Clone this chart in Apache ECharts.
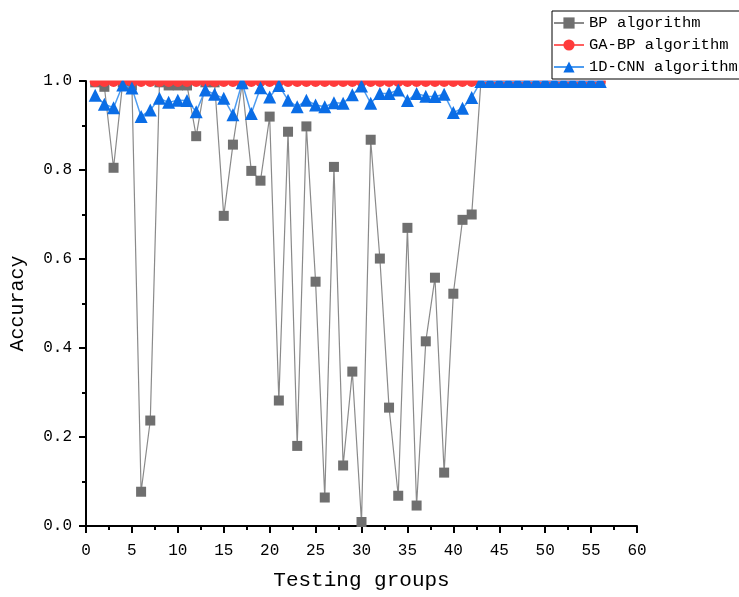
<!DOCTYPE html>
<html>
<head>
<meta charset="utf-8">
<script src="https://cdn.jsdelivr.net/npm/echarts@6/dist/echarts.min.js"></script>
<style>
  html, body { margin: 0; padding: 0; background: #fff; }
  #chart { width: 739px; height: 597px; }
</style>
</head>
<body>
<div id="chart"></div>
<script>
const groups = [1,2,3,4,5,6,7,8,9,10,11,12,13,14,15,16,17,18,19,20,21,22,23,24,25,26,27,28,
  29,30,31,32,33,34,35,36,37,38,39,40,41,42,43,44,45,46,47,48,49,50,51,52,53,54,55,56];

const bpAcc = [0.997,0.987,0.805,0.997,0.99,0.077,0.237,0.997,0.99,0.99,0.99,0.876,0.997,0.997,
  0.697,0.857,0.993,0.798,0.776,0.92,0.282,0.886,0.18,0.898,0.549,0.064,0.807,0.136,
  0.347,0.009,0.868,0.601,0.266,0.068,0.67,0.046,0.415,0.558,0.12,0.522,0.688,0.7,
  0.998,0.998,0.998,0.998,0.998,0.998,0.998,0.998,0.998,0.998,0.998,0.998,0.998,0.998];

const gaBpAcc = [0.999,0.999,0.999,0.999,0.999,0.999,0.999,0.999,0.999,0.999,0.999,0.999,0.999,0.999,
  0.999,0.999,0.999,0.999,0.999,0.999,0.999,0.999,0.999,0.999,0.999,0.999,0.999,0.999,
  0.999,0.999,0.999,0.999,0.999,0.999,0.999,0.999,0.999,0.999,0.999,0.999,0.999,0.999,
  0.999,0.999,0.999,0.999,0.999,0.999,0.999,0.999,0.999,0.999,0.999,0.999,0.999,0.999];

const cnnAcc = [0.968,0.948,0.94,0.991,0.984,0.92,0.935,0.961,0.952,0.957,0.956,0.931,0.98,0.97,
  0.961,0.924,0.996,0.927,0.985,0.964,0.99,0.957,0.942,0.957,0.946,0.942,0.951,0.95,
  0.969,0.989,0.95,0.972,0.972,0.98,0.956,0.972,0.966,0.965,0.97,0.929,0.939,0.963,
  0.999,0.999,0.999,0.999,0.999,0.999,0.999,0.999,0.999,0.999,0.999,0.999,0.999,0.999];

const FONT = 'Liberation Mono';

function pairs(vals) {
  return groups.map((g, i) => [g, vals[i]]);
}

const chart = echarts.init(document.getElementById('chart'), null, { renderer: 'canvas' });

const option = {
  backgroundColor: '#fff',
  animation: false,
  grid: { left: 86, right: 102, top: 81, bottom: 71, containLabel: false },
  // white band above the plot top so markers sitting at 1.0 look cut off like the original
  graphic: [{
    type: 'rect',
    z: 10,
    silent: true,
    shape: { x: 87, y: 55, width: 560, height: 25.5 },
    style: { fill: '#fff' }
  }],
  legend: {
    z: 20,
    orient: 'vertical',
    left: 552,
    top: 11,
    padding: [4, 6, 4, 1],
    itemGap: 6,
    itemWidth: 30,
    itemHeight: 14,
    borderColor: '#000',
    borderWidth: 1,
    backgroundColor: '#fff',
    textStyle: { fontFamily: FONT, fontSize: 15.5, color: '#000' },
    data: ['BP algorithm', 'GA-BP algorithm', '1D-CNN algorithm']
  },
  xAxis: {
    type: 'value',
    min: 0,
    max: 60,
    interval: 5,
    name: 'Testing groups',
    nameLocation: 'middle',
    nameGap: 44,
    nameTextStyle: { fontFamily: FONT, fontSize: 21, color: '#000' },
    axisLine: { lineStyle: { color: '#000', width: 2 } },
    axisTick: { inside: false, length: 7, lineStyle: { color: '#000', width: 2 } },
    minorTick: { show: true, splitNumber: 2, length: 4, lineStyle: { color: '#000', width: 2 } },
    axisLabel: { fontFamily: FONT, fontSize: 16, color: '#000', margin: 17 },
    splitLine: { show: false }
  },
  yAxis: {
    type: 'value',
    min: 0,
    max: 1,
    interval: 0.2,
    name: 'Accuracy',
    nameLocation: 'middle',
    nameGap: 58,
    nameTextStyle: { fontFamily: FONT, fontSize: 20, color: '#000' },
    axisLine: { show: true, lineStyle: { color: '#000', width: 2 } },
    axisTick: { show: true, inside: false, length: 7, lineStyle: { color: '#000', width: 2 } },
    minorTick: { show: true, splitNumber: 2, length: 4, lineStyle: { color: '#000', width: 2 } },
    axisLabel: {
      fontFamily: FONT, fontSize: 16, color: '#000', margin: 14,
      formatter: v => v.toFixed(1)
    },
    splitLine: { show: false }
  },
  series: [
    {
      name: 'BP algorithm',
      type: 'line',
      data: pairs(bpAcc),
      symbol: 'rect',
      symbolSize: 10,
      itemStyle: { color: '#6f6f6f' },
      lineStyle: { color: '#8a8a8a', width: 1.2 },
      z: 2
    },
    {
      name: 'GA-BP algorithm',
      type: 'line',
      data: pairs(gaBpAcc),
      symbol: 'circle',
      symbolSize: 11,
      itemStyle: { color: '#ff3b3b' },
      lineStyle: { color: '#ff6060', width: 1.2 },
      z: 3
    },
    {
      name: '1D-CNN algorithm',
      type: 'line',
      data: pairs(cnnAcc),
      symbol: 'triangle',
      symbolSize: 13,
      itemStyle: { color: '#0a6de6' },
      lineStyle: { color: '#4d9cf0', width: 1.5 },
      z: 4
    }
  ]
};

chart.setOption(option);
</script>
</body>
</html>
